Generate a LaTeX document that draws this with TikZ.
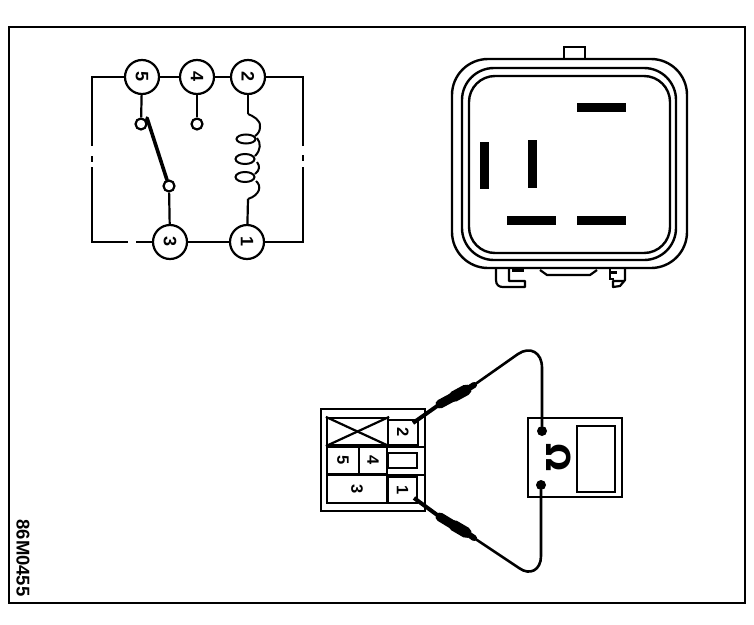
\documentclass[tikz,border=0pt]{standalone}
\usepackage{fontspec}
\setmainfont{Liberation Sans}
\newfontfamily\omfont{DejaVu Sans}
\tikzset{
  x=1pt,y=-1pt,
  ink/.style={draw=black,line width=2.2pt},
  term/.style={circle,draw=black,line width=2.2pt,fill=white,minimum size=34pt,inner sep=0pt,rotate=-90,font=\bfseries\fontsize{18}{18}\selectfont},
  contact/.style={circle,draw=black,line width=2.2pt,fill=white,minimum size=11pt,inner sep=0pt},
  jack/.style={circle,fill=black,minimum size=10pt,inner sep=0pt},
  blade/.style={line width=9pt,draw=black},
  shell/.style={draw=black,line width=2.4pt},
  cell/.style={draw=black,line width=2.2pt,rectangle,inner sep=0pt,rotate=-90,font=\bfseries\fontsize{16.5}{16.5}\selectfont},
  probe/.style={draw=black,line cap=round},
  lead/.style={draw=black,line width=2.6pt,line cap=round,line join=round}
}
\begin{document}
\begin{tikzpicture}
\useasboundingbox (0,0) rectangle (754,624);
\fill[white] (0,0) rectangle (754,624);
% frame
\draw[line width=2.2pt] (9,27) rectangle (745,603);
\node[rotate=-90,font=\bfseries\fontsize{18.5}{18.5}\selectfont] (code) at (23,558) {86M0455};

% schematic
\coordinate (TL) at (92,77); \coordinate (TR) at (303,77);
\coordinate (BL) at (92,242); \coordinate (BR) at (303,242);
\coordinate (LgapA) at (92,146); \coordinate (LdotA) at (92,156); \coordinate (LdotB) at (92,162); \coordinate (LgapB) at (92,167);
\coordinate (RgapA) at (303,146); \coordinate (RdotA) at (303,155); \coordinate (RdotB) at (303,161); \coordinate (RgapB) at (303,167);
\coordinate (BgapA) at (128,242); \coordinate (BgapB) at (136,242);
\coordinate (coilTop) at (248,114); \coordinate (coilBot) at (248,199);
\node[term] (n5) at (142,77) {5};
\node[term] (n4) at (197,77) {4};
\node[term] (n2) at (248,77) {2};
\node[term] (n3) at (170,242) {3};
\node[term] (n1) at (247,242) {1};
\node[contact] (c5) at (141,124) {};
\node[contact] (c4) at (197,124) {};
\node[contact] (c3) at (169,186) {};
\draw[ink] (n5) -- (n4); \draw[ink] (n4) -- (n2);
\draw[ink] (n5) -- (TL) -- (LgapA);
\draw[ink] (LdotA) -- (LdotB);
\draw[ink] (LgapB) -- (BL) -- (BgapA);
\draw[ink] (BgapB) -- (n3);
\draw[ink] (n3) -- (n1);
\draw[ink] (n1) -- (BR) -- (RgapB);
\draw[ink] (RdotA) -- (RdotB);
\draw[ink] (RgapA) -- (TR) -- (n2);
\draw[ink] (n5) -- (c5);
\draw[ink] (n4) -- (c4);
\draw[ink] (c3) -- (n3);
\draw[line width=3.6pt,line cap=round] (147,118) -- (167,180);
\draw[ink] (n2) -- (coilTop);
\draw[ink] (coilBot) -- (n1);
% coil
\draw[draw=black,line width=2pt,line join=round]
  (coilTop) .. controls (253,116) and (261,120) .. (260,127)
  .. controls (260,131) and (258,134) .. (255,136);
\draw[draw=black,line width=2pt] (257,138) .. controls (261,143) and (261,150) .. (255,156);
\draw[draw=black,line width=2pt] (257,162) .. controls (260,166) and (260,170) .. (255,174);
\draw[draw=black,line width=2pt] (256,181) .. controls (262,186) and (260,195) .. (coilBot);
\draw[line width=2pt] (246,139) ellipse [x radius=9.5,y radius=4.5];
\draw[line width=2pt] (245,159) ellipse [x radius=9.5,y radius=5];
\draw[line width=2pt] (245,177) ellipse [x radius=9.5,y radius=5];

% relay
\draw[shell,rounded corners=36pt] (452,59) rectangle (687,268);
\draw[shell,rounded corners=32pt] (462,68) rectangle (676,260);
\draw[shell,rounded corners=26pt] (469,76) rectangle (670,253);
\draw[ink] (564,58) -- (564,47) -- (585,47) -- (585,58);
\draw[blade] (577,107) -- (626,107);
\draw[blade] (484,142) -- (484,189);
\draw[blade] (532,140) -- (532,188);
\draw[blade] (507,220) -- (556,220);
\draw[blade] (577,220) -- (626,220);
\draw[ink,line join=round] (496,269) -- (496,280) .. controls (496,285) and (499,287) .. (503,287) -- (525,287) -- (525,281) -- (509,281) -- (509,269);
\draw[ink,line join=round] (540,270) -- (547,275) -- (590,275) -- (597,270);
\draw[ink,line join=round] (625,269) -- (625,280) -- (620,286) -- (613,287) -- (613,281) -- (625,281);
\draw[ink] (610,269) -- (610,279) -- (614,279);
\draw[line width=3pt] (512,270) -- (524,270);
\draw[line width=3pt] (610,272) -- (617,272);

% connector
\draw[line width=2.4pt] (321,409) rectangle (425,511);
\node[cell,minimum width=27pt,minimum height=61pt] (xcell) at (357.5,431.5) {};
\draw[line width=2.2pt] (xcell.north east) -- (xcell.south west);
\draw[line width=2.2pt] (xcell.north west) -- (xcell.south east);
\node[cell,minimum width=25pt,minimum height=30pt] (k2) at (403,432.5) {2};
\node[cell,minimum width=27pt,minimum height=32pt] (k5) at (343,460.5) {5};
\node[cell,minimum width=27pt,minimum height=28pt] (k4) at (373,460.5) {4};
\node[cell,minimum width=28pt,minimum height=60pt] (k3) at (357,489) {3};
\node[cell,minimum width=15pt,minimum height=29pt] (kgap) at (402.5,460.5) {};
\node[cell,minimum width=26pt,minimum height=29pt] (k1) at (402.5,490) {1};
\draw[line width=2pt] (388,447) -- (425,447);
\draw[line width=2pt] (388,475) -- (425,475);

% meter
\node[draw=black,line width=2.4pt,rectangle,minimum width=94pt,minimum height=79pt,inner sep=0pt] (meter) at (575,457.5) {};
\node[draw=black,line width=2.4pt,rectangle,minimum width=38pt,minimum height=66pt,inner sep=0pt] (screen) at (596,459) {};
\node[jack] (j1) at (542,431) {};
\node[jack] (j2) at (541,485) {};
\node[rotate=-90,font=\omfont\bfseries\fontsize{33}{33}\selectfont] (ohm) at (559,458) {Ω};

% probes
\coordinate (t2) at (413,423); \coordinate (t1) at (414,498);
\coordinate (a2) at (440,404); \coordinate (m2) at (454,396.5); \coordinate (n2b) at (466,390); \coordinate (b2) at (474,385);
\coordinate (a1) at (440,517); \coordinate (m1) at (454,525.5); \coordinate (n1b) at (466,532.5); \coordinate (b1) at (474,538);
\draw[line width=4pt] (t2) -- (a2);
\draw[line width=4pt] (t1) -- (a1);
\draw[probe,line width=9pt] (a2) -- (m2);
\draw[probe,line width=11pt] (m2) -- (n2b);
\draw[probe,line width=6pt] (n2b) -- (b2);
\draw[probe,line width=9pt] (a1) -- (m1);
\draw[probe,line width=11pt] (m1) -- (n1b);
\draw[probe,line width=6pt] (n1b) -- (b1);
\draw[lead] (b2) -- (518,354) .. controls (530,346) and (542,352) .. (542,368) -- (j1);
\draw[lead] (b1) -- (519,568) .. controls (530,576) and (541,570) .. (541,556) -- (j2);
\end{tikzpicture}
\end{document}
